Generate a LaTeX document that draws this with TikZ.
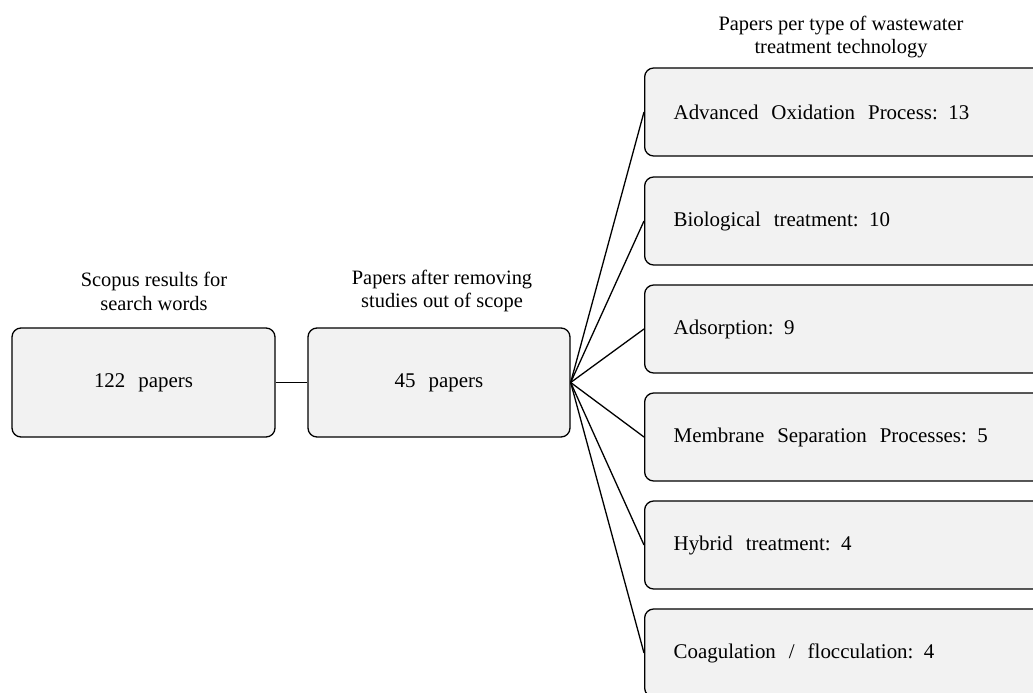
\documentclass[tikz,border=0pt]{standalone}
\usepackage{fontspec}
\setmainfont{Liberation Serif}
\definecolor{boxfill}{rgb}{0.95,0.95,0.95}
\newcommand\setwidespace{\spaceskip=13bp plus 2bp\relax}
\begin{document}
\begin{tikzpicture}[x=1bp,y=-1bp,line join=bevel,
  box/.style={draw=black,fill=boxfill,line width=1.3bp,rounded corners=9bp,
    font=\fontsize{21}{26}\selectfont,execute at begin node=\setwidespace},
  tbox/.style={box,minimum width=416bp,minimum height=88bp,text width=358bp,
    inner xsep=29bp,align=left},
  head/.style={align=center,font=\fontsize{20.5}{24}\selectfont}]
  \useasboundingbox (0,0) rectangle (1033,693);
%%
  % Node: scopus
  \node[box,minimum width=263bp,minimum height=109bp] (scopus) at (143.5,382.5) {122 papers};
  \node[head] (scopushd) at (154,291) {Scopus results for\\search words};
  % Node: scope
  \node[box,minimum width=262bp,minimum height=109bp] (scope) at (439,382.5) {45 papers};
  \node[head] (scopehd) at (442,291) {Papers after removing\\studies out of scope};
  % Nodes: technologies
  \node[head] (techhd) at (841,37) {Papers per type of wastewater\\treatment technology};
  \node[tbox,anchor=west] (aop) at (644,112) {Advanced Oxidation Process: 13};
  \node[tbox,anchor=west] (bio) at (644,221) {Biological treatment: 10};
  \node[tbox,anchor=west] (ads) at (644,329) {Adsorption: 9};
  \node[tbox,anchor=west] (mem) at (644,437) {Membrane Separation Processes: 5};
  \node[tbox,anchor=west] (hyb) at (644,545) {Hybrid treatment: 4};
  \node[tbox,anchor=west] (coag) at (644,653) {Coagulation / flocculation: 4};
%%
  \begin{scope}[line width=1.3bp]
  % Edge: scopus -> scope
  \draw (scopus.east) -- (scope.west);
  % Edge: scope -> technologies
  \draw (scope.east) -- (aop.west);
  \draw (scope.east) -- (bio.west);
  \draw (scope.east) -- (ads.west);
  \draw (scope.east) -- (mem.west);
  \draw (scope.east) -- (hyb.west);
  \draw (scope.east) -- (coag.west);
  \end{scope}
%
\end{tikzpicture}
\end{document}
